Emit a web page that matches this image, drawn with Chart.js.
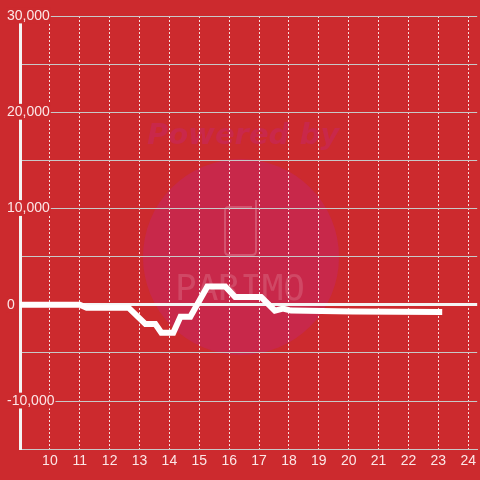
<!DOCTYPE html>
<html>
<head>
<meta charset="utf-8">
<script src="https://cdn.jsdelivr.net/npm/chart.js@4/dist/chart.umd.min.js"></script>
<style>
  html, body { margin: 0; padding: 0; background: #cc2a2e; }
  #wrap { width: 480px; height: 480px; }
</style>
</head>
<body>
<div id="wrap"><canvas id="chart" width="480" height="480"></canvas></div>
<script>
// hour of day and running value
const hours = [9, 11, 11.23, 12.63, 13.2, 13.53, 13.73, 14.13, 14.37, 14.7, 15.27, 15.87, 16.2, 17.07, 17.53, 17.8, 18.07, 20.13, 23.13];
const values = [0, 0, -300, -300, -2000, -2000, -2900, -2900, -1250, -1250, 1900, 1900, 800, 800, -600, -400, -600, -700, -750];
const xTicks = [10, 11, 12, 13, 14, 15, 16, 17, 18, 19, 20, 21, 22, 23, 24];
const yLabelled = [30000, 20000, 10000, 0, -10000];

const BG = "#cc2a2e";

// Background + faint "Powered by" watermark behind the grid
const watermark = {
    id: "watermark",
    beforeDraw: (chart) => {
        const ctx = chart.ctx;
        ctx.save();
        ctx.fillStyle = BG;
        ctx.fillRect(0, 0, chart.width, chart.height);

        ctx.fillStyle = "#c8284a";
        ctx.beginPath();
        ctx.arc(241, 257, 98, 0, Math.PI * 2);
        ctx.fill();

        ctx.fillStyle = "#c9284a";
        ctx.font = "oblique bold 29px 'DejaVu Sans', sans-serif";
        ctx.textAlign = "center";
        ctx.textBaseline = "alphabetic";
        ctx.fillText("Powered by", 243, 144);

        ctx.strokeStyle = "rgba(255,255,255,0.2)";
        ctx.lineWidth = 2;
        ctx.beginPath();
        ctx.moveTo(229, 207);
        ctx.lineTo(252, 207);
        ctx.moveTo(256, 200);
        ctx.lineTo(256, 251);
        ctx.quadraticCurveTo(256, 255, 252, 255);
        ctx.lineTo(229, 255);
        ctx.quadraticCurveTo(225, 255, 225, 251);
        ctx.lineTo(225, 211);
        ctx.quadraticCurveTo(225, 207, 229, 207);
        ctx.stroke();

        ctx.fillStyle = "rgba(255,255,255,0.15)";
        ctx.font = "36px 'DejaVu Sans Mono', monospace";
        ctx.fillText("PARIMO", 240, 300);
        ctx.restore();
    }
};

const TICK_FONT = { family: "'Liberation Sans', Arial, sans-serif", size: 14 };
const TICK_COLOR = "rgba(255,242,242,0.94)";

new Chart(document.getElementById("chart"), {
    type: "line",
    data: {
        datasets: [
            {
                data: hours.map((h, i) => ({ x: h, y: values[i] })),
                borderColor: "#ffffff",
                borderWidth: 6,
                pointRadius: 0,
                tension: 0,
                fill: false
            }
        ]
    },
    options: {
        responsive: false,
        animation: false,
        layout: { padding: { left: 0, top: 16, right: 0, bottom: 6 } },
        plugins: {
            legend: { display: false },
            tooltip: { enabled: false }
        },
        scales: {
            x: {
                type: "linear",
                min: 9,
                max: 24.3,
                afterBuildTicks: (scale) => {
                    scale.ticks = xTicks.map((v) => ({ value: v }));
                },
                grid: {
                    color: "rgba(255,255,255,0.85)",
                    lineWidth: 1,
                    drawTicks: false
                },
                border: {
                    display: true,
                    color: "#c8c8c8",
                    width: 1,
                    dash: [2, 2]
                },
                ticks: {
                    font: TICK_FONT,
                    color: TICK_COLOR,
                    padding: 4,
                    maxRotation: 0,
                    callback: (v) => String(v)
                }
            },
            y: {
                min: -15000,
                max: 30000,
                afterFit: (scale) => {
                    scale.width = 20;
                },
                grid: {
                    color: (c) => (c.tick && c.tick.value === 0 ? "#f4f4f4" : "#c8c8c8"),
                    lineWidth: (c) => (c.tick && c.tick.value === 0 ? 3 : 1),
                    drawTicks: false
                },
                border: {
                    display: true,
                    color: "#f4f4f4",
                    width: 3
                },
                ticks: {
                    stepSize: 5000,
                    mirror: true,
                    crossAlign: "near",
                    padding: -13,
                    z: 1,
                    font: TICK_FONT,
                    color: TICK_COLOR,
                    showLabelBackdrop: true,
                    backdropColor: (c) => (c.tick && yLabelled.includes(c.tick.value) ? BG : "rgba(0,0,0,0)"),
                    backdropPadding: { top: 0, bottom: -1, left: 1, right: 1 },
                    callback: (v) => (yLabelled.includes(v) ? v.toLocaleString("en-US") : "")
                }
            }
        }
    },
    plugins: [watermark]
});
</script>
</body>
</html>
